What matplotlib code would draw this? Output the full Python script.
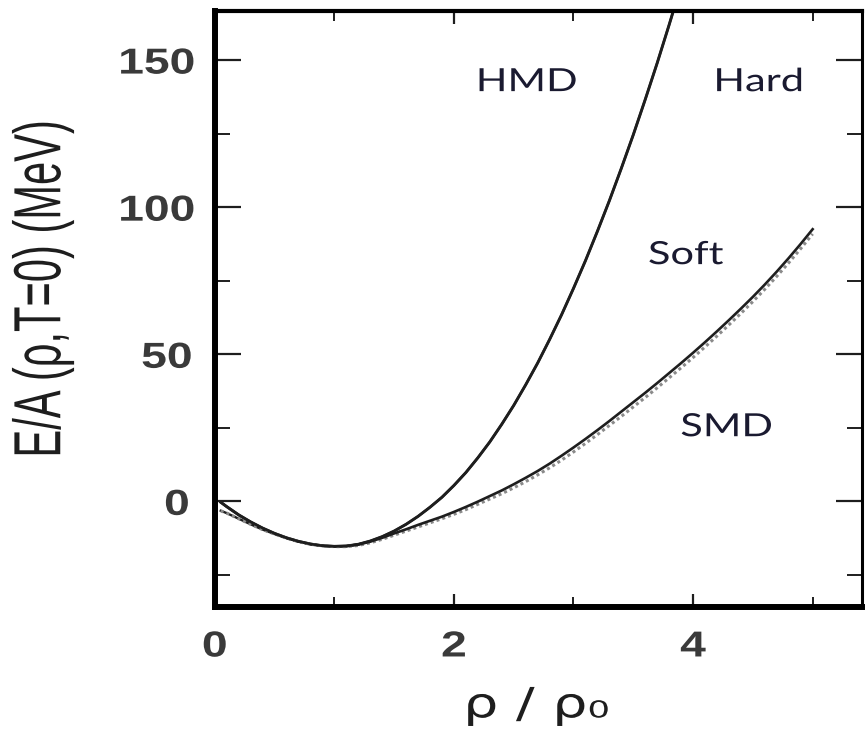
import numpy as np
import matplotlib
matplotlib.use('Agg')
import matplotlib.pyplot as plt
from matplotlib import patheffects
from matplotlib.transforms import Affine2D


# 状态方程 E/A(ρ, T=0) 数据 (ρ/ρ0, MeV)
rho_h = [0.05, 0.1, 0.2, 0.3, 0.4, 0.5, 0.6, 0.7, 0.8, 0.9, 1.0, 1.1, 1.2,
         1.3, 1.4, 1.5, 1.6, 1.7, 1.8, 1.9, 2.0, 2.1, 2.2, 2.3, 2.4, 2.5,
         2.6, 2.7, 2.8, 2.9, 3.0, 3.1, 3.2, 3.3, 3.4, 3.5, 3.6, 3.7, 3.8, 3.9]
hard = [-0.3, -1.8, -4.6, -7.0, -9.1, -10.9, -12.4, -13.6, -14.5, -15.1,
        -15.3, -15.2, -14.6, -13.5, -12.0, -10.1, -7.8, -5.1, -2.0, 1.4,
        5.4, 9.8, 14.8, 20.2, 26.2, 32.6, 39.6, 47.0, 55.0, 63.4, 72.4,
        81.8, 91.8, 102.2, 113.2, 124.6, 136.6, 149.0, 162.0, 175.4]
hmd = [-3.2, -4.0, -5.9, -7.8, -9.6, -11.1, -12.5, -13.7, -14.6, -15.1,
       -15.3, -15.2, -14.6, -13.5, -12.0, -10.1, -7.8, -5.1, -2.0, 1.4,
       5.4, 9.8, 14.8, 20.2, 26.2, 32.6, 39.6, 47.0, 55.0, 63.4, 72.4,
       81.8, 91.8, 102.2, 113.2, 124.6, 136.6, 149.0, 162.0, 175.4]

rho_s = [0.05, 0.1, 0.2, 0.3, 0.4, 0.5, 0.6, 0.7, 0.8, 0.9, 1.0, 1.1, 1.2,
         1.3, 1.4, 1.5, 1.6, 1.7, 1.8, 1.9, 2.0, 2.1, 2.2, 2.3, 2.4, 2.5,
         2.6, 2.7, 2.8, 2.9, 3.0, 3.1, 3.2, 3.3, 3.4, 3.5, 3.6, 3.7, 3.8,
         3.9, 4.0, 4.1, 4.2, 4.3, 4.4, 4.5, 4.6, 4.7, 4.8, 4.9, 5.0]
soft = [-0.3, -1.8, -4.6, -7.0, -9.1, -10.9, -12.4, -13.6, -14.5, -15.1,
        -15.3, -15.2, -14.7, -13.7, -12.4, -10.9, -9.5, -8.0, -6.6, -5.2,
        -3.6, -1.9, -0.1, 1.8, 3.7, 5.8, 8.0, 10.3, 12.8, 15.5, 18.3, 21.2,
        24.2, 27.3, 30.5, 33.7, 36.9, 40.2, 43.6, 47.0, 50.5, 54.1, 57.8,
        61.6, 65.5, 69.5, 73.7, 78.1, 82.7, 87.5, 92.5]
smd = [-3.2, -4.0, -5.9, -7.8, -9.6, -11.1, -12.5, -13.7, -14.6, -15.1,
       -15.4, -15.4, -15.0, -14.1, -12.9, -11.5, -10.1, -8.7, -7.3, -5.9,
       -4.4, -2.8, -1.0, 0.8, 2.6, 4.6, 6.7, 9.0, 11.4, 14.0, 16.8, 19.7,
       22.7, 25.8, 28.9, 32.1, 35.3, 38.6, 42.0, 45.4, 48.9, 52.5, 56.2,
       60.0, 63.9, 67.9, 72.1, 76.5, 81.1, 85.9, 90.9]

x_ticks = [0, 2, 4]
x_minor = [1, 3, 5]
y_ticks = [0, 50, 100, 150]
y_minor = [-25, 25, 75, 125]

labels = ['HMD', 'Hard', 'Soft', 'SMD']
label_pos = [(2.61, 142.5), (4.55, 142.5), (3.94, 83.7), (4.28, 25.2)]


class StretchX(patheffects.AbstractPathEffect):
    """把文字在屏幕横向拉宽"""
    def __init__(self, sx):
        super().__init__()
        self.sx = sx

    def draw_path(self, renderer, gc, tpath, affine, rgbFace=None):
        c = tpath.get_extents().get_points().mean(axis=0)
        cx, cy = affine.transform(c)
        st = Affine2D().translate(-cx, -cy).scale(self.sx, 1).translate(cx, cy)
        renderer.draw_path(gc, tpath, affine + st, rgbFace)


fig = plt.figure(figsize=(8.66, 7.29), dpi=100)
ax = fig.add_axes([0.248, 0.167, 0.747, 0.818])

ink = '#1e1e1e'
ax.plot(rho_h, hard, color=ink, lw=2.1)
ax.plot(rho_h, hmd, color=ink, lw=1.7)
ax.plot(rho_s, smd, color='#8a8a8a', lw=2.2, ls=(0, (1, 1)))
ax.plot(rho_s, soft, color=ink, lw=1.9)

ax.set_xlim(0, 5.41)
ax.set_ylim(-36, 166.7)

ax.set_xticks(x_ticks)
ax.set_xticks(x_minor, minor=True)
ax.set_yticks(y_ticks)
ax.set_yticks(y_minor, minor=True)

ax.tick_params(which='both', direction='in', top=True, right=True, color=ink)
ax.tick_params(axis='y', which='major', length=19, width=1.6, pad=20)
ax.tick_params(axis='y', which='minor', length=11, width=1.4)
ax.tick_params(axis='x', which='major', length=9.5, width=1.6, pad=16)
ax.tick_params(axis='x', which='minor', length=7, width=1.4)

for s, w in zip(['left', 'bottom', 'top', 'right'], [4.3, 4.3, 3.0, 2.2]):
    ax.spines[s].set_linewidth(w)
    ax.spines[s].set_color('black')

for lbl in ax.get_xticklabels() + ax.get_yticklabels():
    lbl.set_fontfamily('Liberation Sans')
    lbl.set_fontsize(26)
    lbl.set_fontweight('bold')
    lbl.set_color('#3a3a3a')
    lbl.set_path_effects([StretchX(1.28)])

ax.set_xlabel('ρ / ρ₀', family='DejaVu Sans', fontsize=30, color=ink,
              path_effects=[StretchX(1.33)])
ax.xaxis.set_label_coords((537 - 215) / 647, (607 - 705) / 596)
ax.xaxis.label.set_va('center')

ax.set_ylabel('E/A (ρ,T=0) (MeV)', family='Liberation Sans', fontsize=30,
              color=ink, path_effects=[StretchX(1.6)])
ax.yaxis.set_label_coords((43 - 215) / 647, (607 - 289) / 596)
ax.yaxis.label.set_va('center')

for t, (px, py) in zip(labels, label_pos):
    ax.text(px, py, t, family='Lato', fontsize=23, color='#1a1a30',
            ha='center', va='center', path_effects=[StretchX(1.3)])

fig.savefig('out.png', dpi=100)
